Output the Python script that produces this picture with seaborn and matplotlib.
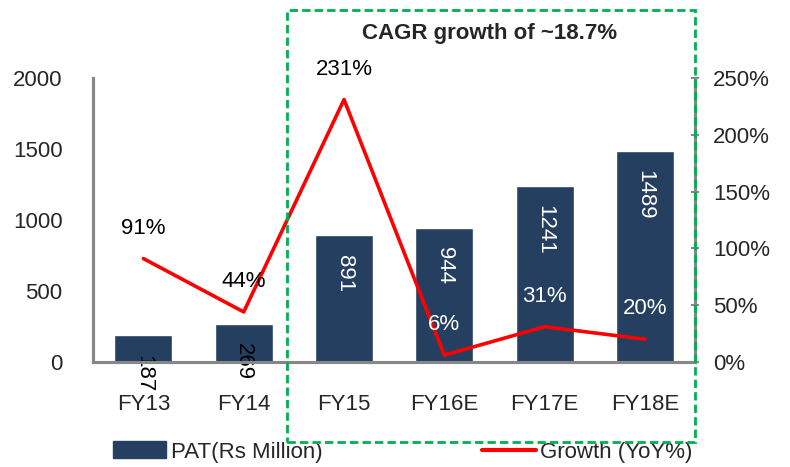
import matplotlib
matplotlib.use("Agg")
import matplotlib.pyplot as plt
import matplotlib.patches as mpatches
import matplotlib.lines as mlines
import matplotlib.ticker as ticker
import seaborn as sns
import pandas as pd

# data
years = ["FY13", "FY14", "FY15", "FY16E", "FY17E", "FY18E"]
pat = [187, 269, 891, 944, 1241, 1489]
growth = [91, 44, 231, 6, 31, 20]
growth_labels = ["91%", "44%", "231%", "6%", "31%", "20%"]
left_ticks = [0, 500, 1000, 1500, 2000]
right_ticks = [0, 50, 100, 150, 200, 250]

df = pd.DataFrame({"year": years, "pat": pat, "growth": growth})

sns.set_style("white")
plt.rcParams["font.family"] = ["Liberation Sans", "DejaVu Sans"]

navy = "#243F60"
red = "#FF0000"
grey = "#878787"
green = "#00B050"

fig = plt.figure(figsize=(7.9, 4.67), dpi=100)
ax = fig.add_axes([0.118, 0.225, 0.762, 0.608])

sns.barplot(data=df, x="year", y="pat", color=navy, width=0.58, saturation=1, ax=ax)
ax.set_ylim(0, 2000)
ax.set_xlim(-0.5, 5.5)
ax.set_yticks(left_ticks)
ax.set_xlabel("")
ax.set_ylabel("")
ax.tick_params(axis="y", labelsize=16, length=0, pad=22)
ax.tick_params(axis="x", labelsize=16, length=0, pad=23)

# bar value labels, rotated, near top of bar
for i, v in enumerate(pat):
    col = "black" if v < 500 else "white"
    ax.annotate(str(v), (i, v), xytext=(0, -14), textcoords="offset points",
                rotation=270, ha="center", va="top", fontsize=16, color=col,
                annotation_clip=False)

ax2 = ax.twinx()
sns.lineplot(x=years, y=growth, sort=False, color=red, linewidth=2.6, ax=ax2)
ax2.set_ylim(0, 250)
ax2.set_yticks(right_ticks)
ax2.yaxis.set_major_formatter(ticker.FuncFormatter(lambda v, p: f"{int(v)}%"))
ax2.tick_params(axis="y", labelsize=16, direction="inout", length=6, width=1.5,
                color=grey, pad=10)

for i, (g, lab) in enumerate(zip(growth, growth_labels)):
    col = "black" if i < 3 else "white"
    ax2.annotate(lab, (i, g), xytext=(0, 22), textcoords="offset points",
                 ha="center", va="center", fontsize=16, color=col)

for a in (ax, ax2):
    a.spines["top"].set_visible(False)
    for s in ("left", "right", "bottom"):
        a.spines[s].set_color(grey)
        a.spines[s].set_linewidth(2.2)

# green dashed box with CAGR note
box = mpatches.Rectangle((0.363, 0.054), 0.517, 0.925, transform=fig.transFigure,
                         fill=False, edgecolor=green, linestyle=(0, (3, 1.5)),
                         linewidth=2, zorder=10)
fig.patches.append(box)
fig.text(0.620, 0.929, "CAGR growth of ~18.7%", ha="center", va="center",
         fontsize=16, fontweight="bold")

handles = [mpatches.Patch(color=navy, label="PAT(Rs Million)"),
           mlines.Line2D([], [], color=red, linewidth=3, label="Growth (YoY%)")]
fig.legend(handles=handles, loc="center left", bbox_to_anchor=(0.143, 0.032), ncol=2,
           frameon=False, fontsize=16, handlelength=2.4, handleheight=0.8,
           columnspacing=7.2, handletextpad=0.2, borderaxespad=0, borderpad=0)

fig.savefig("out.png", dpi=100)
